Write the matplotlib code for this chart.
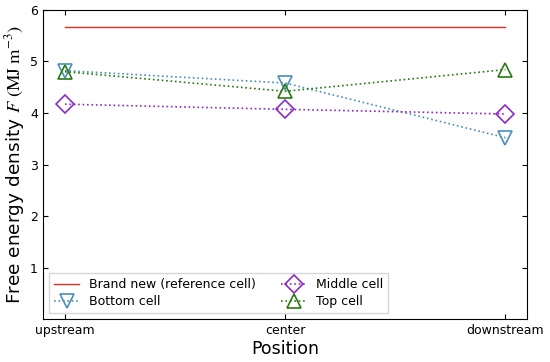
import matplotlib
matplotlib.use("Agg")
import matplotlib.pyplot as plt

positions = ["upstream", "center", "downstream"]
brand_new = [5.66, 5.66, 5.66]
bottom_cell = [4.82, 4.58, 3.52]
middle_cell = [4.17, 4.07, 3.98]
top_cell = [4.80, 4.42, 4.84]

plt.rcParams['mathtext.fontset'] = 'stix'
fig = plt.figure(figsize=(5.5, 3.62), dpi=100)
ax = fig.add_axes([0.078, 0.118, 0.881, 0.855])
x = list(range(len(positions)))
ax.plot(x, brand_new, '-', color='#e8291c', lw=1.0, label='Brand new (reference cell)')
ax.plot(x, bottom_cell, ':', color='#4a90b8', lw=1.2, marker='v', ms=9.5, mfc='none', mew=1.2,
        label='Bottom cell')
ax.plot(x, middle_cell, ':', color='#8e2bc4', lw=1.2, marker='D', ms=9.5, mfc='none', mew=1.2,
        label='Middle cell')
ax.plot(x, top_cell, ':', color='#2a7a10', lw=1.2, marker='^', ms=9.5, mfc='none', mew=1.2,
        label='Top cell')
ax.set_xlim(-0.1, 2.1)
ax.set_ylim(0, 6)
ax.set_xticks(x)
ax.set_xticklabels(positions)
ax.set_yticks([1, 2, 3, 4, 5, 6])
ax.tick_params(direction='in', top=True, right=True, labelsize=9)
ax.set_xlabel('Position', fontsize=12.5, labelpad=2)
ax.set_ylabel(r'Free energy density $F\ \mathrm{(MJ\ m^{-3})}$', fontsize=13.3, labelpad=2)
ax.legend(loc='lower left', ncol=2, fontsize=9, handlelength=2.0, columnspacing=2.0,
          borderpad=0.4, labelspacing=0.3, fancybox=False)
fig.savefig('out.png', dpi=100)
